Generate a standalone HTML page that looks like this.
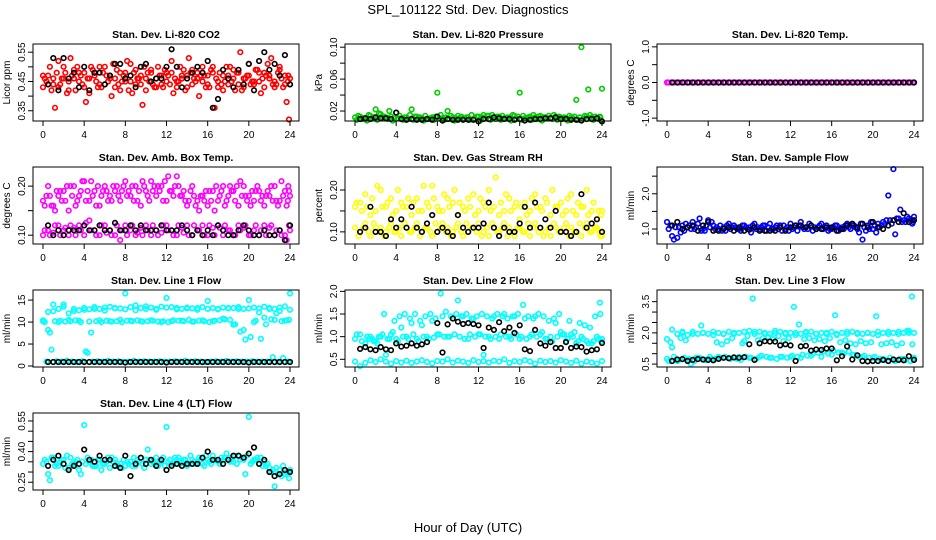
<!DOCTYPE html>
<html><head><meta charset="utf-8">
<style>
html,body{margin:0;padding:0;background:#fff;}
svg{display:block;font-family:"Liberation Sans",Arial,sans-serif;}
</style></head>
<body>
<svg id="chart" width="936" height="540" viewBox="0 0 936 540">
<text x="468" y="14" text-anchor="middle" font-size="13">SPL_101122  Std. Dev. Diagnostics</text>
<text x="468" y="532" text-anchor="middle" font-size="13">Hour of Day (UTC)</text>
</svg>
<script>
const HA=[0,0.5,1,1.5,2,2.5,3,3.5,4,4.5,5,5.5,6,6.5,7,7.5,8,8.5,9,9.5,10,10.5,11,11.5,12,12.5,13,13.5,14,14.5,15,15.5,16,16.5,17,17.5,18,18.5,19,19.5,20,20.5,21,21.5,22,22.5,23,23.5,24];
const HB=[0.17,0.67,1.17,1.67,2.17,2.67,3.17,3.67,4.17,4.67,5.17,5.67,6.17,6.67,7.17,7.67,8.17,8.67,9.17,9.67,10.17,10.67,11.17,11.67,12.17,12.67,13.17,13.67,14.17,14.67,15.17,15.67,16.17,16.67,17.17,17.67,18.17,18.67,19.17,19.67,20.17,20.67,21.17,21.67,22.17,22.67,23.17,23.67,23.9];
const HC=[0.33,0.83,1.33,1.83,2.33,2.83,3.33,3.83,4.33,4.83,5.33,5.83,6.33,6.83,7.33,7.83,8.33,8.83,9.33,9.83,10.33,10.83,11.33,11.83,12.33,12.83,13.33,13.83,14.33,14.83,15.33,15.83,16.33,16.83,17.33,17.83,18.33,18.83,19.33,19.83,20.33,20.83,21.33,21.83,22.33,22.83,23.33,23.83,23.8];
const xTicks=[0,4,8,12,16,20,24];

const co2A=[0.43,0.47,0.44,0.52,0.46,0.42,0.49,0.45,0.48,0.41,0.47,0.44,0.50,0.46,0.43,0.48,0.45,0.51,0.44,0.47,0.42,0.49,0.46,0.44,0.48,0.52,0.45,0.47,0.43,0.49,0.46,0.50,0.44,0.48,0.45,0.42,0.47,0.49,0.44,0.46,0.51,0.45,0.48,0.43,0.47,0.45,0.49,0.44,0.46];
const co2B=[0.46,0.50,0.36,0.44,0.48,0.53,0.42,0.47,0.38,0.50,0.45,0.43,0.47,0.40,0.49,0.45,0.52,0.41,0.46,0.37,0.48,0.44,0.50,0.43,0.47,0.41,0.45,0.49,0.53,0.46,0.40,0.47,0.43,0.36,0.48,0.45,0.50,0.42,0.55,0.46,0.44,0.49,0.41,0.47,0.53,0.44,0.46,0.38,0.32];
const co2C=[0.45,0.42,0.48,0.46,0.41,0.47,0.50,0.44,0.46,0.49,0.43,0.48,0.45,0.51,0.44,0.47,0.42,0.48,0.46,0.50,0.45,0.43,0.47,0.49,0.44,0.46,0.50,0.42,0.48,0.45,0.47,0.43,0.49,0.46,0.44,0.50,0.45,0.48,0.42,0.47,0.45,0.49,0.46,0.51,0.44,0.48,0.43,0.47,0.45];
const co2D=[0.47,0.44,0.46,0.43,0.50,0.45,0.46,0.48,0.43,0.46,0.48,0.50,0.44,0.47,0.46,0.42,0.48,0.45,0.49,0.44,0.46,0.48,0.43,0.47,0.45,0.48,0.43,0.46,0.47,0.44,0.48,0.45,0.47,0.50,0.43,0.47,0.44,0.46,0.48,0.43,0.47,0.44,0.45,0.48,0.46,0.43,0.50,0.47,0.44];
const co2K=[null,0.44,0.53,0.42,0.53,0.46,0.48,0.43,0.50,0.42,0.48,0.48,0.44,0.47,0.51,0.51,0.46,0.47,0.43,0.50,0.51,0.45,0.46,0.46,0.50,0.56,0.50,0.43,0.46,0.48,0.50,0.48,0.52,0.36,0.39,0.49,0.46,0.43,0.49,0.44,0.51,0.42,0.52,0.55,0.49,0.51,0.47,0.54,0.44];

const prA=[0.012,0.013,0.010,0.014,0.022,0.016,0.012,0.013,0.018,0.011,0.012,0.022,0.013,0.011,0.010,0.012,0.043,0.011,0.020,0.012,0.014,0.011,0.012,0.010,0.013,0.015,0.014,0.012,0.013,0.011,0.012,0.014,0.043,0.011,0.013,0.012,0.014,0.012,0.011,0.013,0.012,0.011,0.012,0.034,0.100,0.013,0.012,0.011,0.048];
const prB=[0.009,0.010,0.008,0.011,0.009,0.012,0.010,0.008,0.011,0.009,0.010,0.009,0.011,0.008,0.010,0.009,0.011,0.009,0.010,0.008,0.011,0.010,0.009,0.010,0.008,0.011,0.009,0.010,0.009,0.011,0.008,0.010,0.009,0.011,0.009,0.010,0.008,0.011,0.010,0.009,0.010,0.008,0.011,0.009,0.010,0.047,0.009,0.010,0.008];
const prC=[0.014,0.011,0.015,0.012,0.017,0.013,0.020,0.011,0.014,0.012,0.015,0.013,0.012,0.014,0.011,0.013,0.015,0.012,0.014,0.011,0.013,0.012,0.015,0.013,0.012,0.014,0.015,0.013,0.014,0.012,0.015,0.013,0.014,0.012,0.015,0.013,0.012,0.014,0.015,0.013,0.012,0.014,0.013,0.012,0.014,0.015,0.013,0.012,0.013];
const prK=[null,0.010,0.011,0.010,0.012,0.011,0.011,0.010,0.018,0.010,0.009,0.010,0.009,0.009,0.010,0.009,0.013,0.008,0.010,0.009,0.009,0.009,0.009,0.009,0.007,0.010,0.010,0.012,0.011,0.010,0.010,0.009,0.010,0.008,0.009,0.010,0.010,0.011,0.011,0.012,0.010,0.010,0.009,0.009,0.008,0.010,0.010,0.011,0.007];

const tmA=[0,0,0,0,0,0,0,0,0,0,0,0,0,0,0,0,0,0,0,0,0,0,0,0,0,0,0,0,0,0,0,0,0,0,0,0,0,0,0,0,0,0,0,0,0,0,0,0,0];
const tmB=[0,0,0,0,0,0,0,0,0,0,0,0,0,0,0,0,0,0,0,0,0,0,0,0,0,0,0,0,0,0,0,0,0,0,0,0,0,0,0,0,0,0,0,0,0,0,0,0,0];
const tmK=[null,0,0,0,0,0,0,0,0,0,0,0,0,0,0,0,0,0,0,0,0,0,0,0,0,0,0,0,0,0,0,0,0,0,0,0,0,0,0,0,0,0,0,0,0,0,0,0,0];

const abA=[0.17,0.20,0.16,0.18,0.19,0.15,0.20,0.18,0.21,0.17,0.19,0.16,0.20,0.18,0.19,0.17,0.21,0.18,0.20,0.16,0.19,0.21,0.18,0.20,0.17,0.19,0.22,0.18,0.16,0.20,0.17,0.18,0.16,0.19,0.17,0.20,0.18,0.19,0.16,0.20,0.18,0.17,0.19,0.16,0.18,0.20,0.17,0.19,0.18];
const abB=[0.16,0.18,0.15,0.19,0.17,0.20,0.16,0.19,0.17,0.21,0.16,0.18,0.19,0.17,0.20,0.19,0.18,0.20,0.17,0.21,0.18,0.19,0.20,0.17,0.22,0.18,0.20,0.19,0.17,0.18,0.15,0.17,0.19,0.15,0.18,0.16,0.20,0.17,0.21,0.18,0.16,0.19,0.17,0.18,0.20,0.17,0.21,0.16,0.19];
const abC=[0.18,0.16,0.19,0.17,0.20,0.18,0.17,0.21,0.19,0.18,0.20,0.19,0.17,0.20,0.18,0.20,0.19,0.17,0.19,0.20,0.17,0.20,0.19,0.21,0.19,0.20,0.18,0.17,0.19,0.16,0.18,0.19,0.17,0.20,0.19,0.17,0.19,0.20,0.18,0.17,0.19,0.20,0.18,0.19,0.17,0.16,0.18,0.20,0.17];
const abD=[0.10,0.11,0.105,0.12,0.11,0.10,0.115,0.12,0.10,0.13,0.11,0.10,0.12,0.11,0.10,0.09,0.12,0.11,0.10,0.115,0.12,0.10,0.11,0.105,0.12,0.11,0.10,0.115,0.12,0.10,0.11,0.12,0.10,0.115,0.12,0.10,0.11,0.10,0.12,0.115,0.10,0.11,0.10,0.12,0.115,0.10,0.11,0.10,0.11];
const abE=[0.11,0.10,0.12,0.10,0.115,0.12,0.10,0.11,0.125,0.11,0.10,0.12,0.105,0.10,0.12,0.11,0.10,0.12,0.105,0.10,0.11,0.12,0.10,0.12,0.11,0.10,0.12,0.105,0.10,0.12,0.11,0.10,0.12,0.10,0.115,0.12,0.11,0.10,0.11,0.12,0.10,0.12,0.11,0.10,0.12,0.11,0.10,0.09,0.12];
const abK=[null,0.12,0.10,0.11,0.10,0.11,0.11,0.11,0.12,0.11,0.11,0.12,0.11,0.11,0.125,0.11,0.11,0.12,0.11,0.12,0.11,0.11,0.11,0.12,0.11,0.11,0.11,0.12,0.11,0.10,0.11,0.10,0.11,0.10,0.12,0.11,0.10,0.10,0.11,0.12,0.11,0.10,0.10,0.11,0.10,0.10,0.11,0.09,0.12];

const rhA=[0.16,0.17,0.19,0.14,0.15,0.20,0.16,0.18,0.15,0.17,0.16,0.14,0.18,0.15,0.17,0.21,0.16,0.15,0.18,0.17,0.14,0.16,0.18,0.19,0.15,0.17,0.20,0.16,0.14,0.15,0.18,0.16,0.13,0.17,0.15,0.19,0.16,0.18,0.14,0.16,0.17,0.15,0.19,0.14,0.16,0.20,0.15,0.13,0.15];
const rhB=[0.17,0.15,0.16,0.18,0.21,0.16,0.17,0.14,0.20,0.16,0.18,0.17,0.15,0.21,0.16,0.18,0.15,0.19,0.16,0.20,0.17,0.15,0.16,0.14,0.18,0.16,0.15,0.23,0.17,0.19,0.15,0.17,0.16,0.14,0.18,0.16,0.15,0.17,0.20,0.16,0.14,0.18,0.15,0.17,0.16,0.14,0.17,0.15,0.14];
const rhC=[0.09,0.11,0.10,0.12,0.10,0.09,0.11,0.10,0.11,0.12,0.10,0.11,0.09,0.11,0.10,0.12,0.11,0.10,0.09,0.11,0.10,0.12,0.11,0.10,0.09,0.11,0.12,0.10,0.11,0.09,0.10,0.11,0.10,0.12,0.11,0.10,0.09,0.11,0.12,0.10,0.11,0.09,0.10,0.12,0.11,0.10,0.11,0.09,0.10];
const rhD=[0.11,0.10,0.12,0.09,0.11,0.11,0.10,0.12,0.10,0.09,0.11,0.10,0.12,0.10,0.11,0.09,0.10,0.12,0.11,0.10,0.12,0.09,0.10,0.11,0.12,0.10,0.09,0.11,0.10,0.12,0.11,0.09,0.11,0.10,0.09,0.12,0.11,0.10,0.09,0.11,0.10,0.12,0.11,0.10,0.09,0.12,0.10,0.11,0.09];
const rhK=[null,0.10,0.11,0.16,0.10,0.10,0.09,0.13,0.11,0.13,0.11,0.16,0.11,0.10,0.12,0.14,0.10,0.11,0.10,0.09,0.14,0.11,0.10,0.11,0.11,0.12,0.17,0.11,0.09,0.11,0.10,0.10,0.12,0.16,0.11,0.17,0.11,0.13,0.11,0.15,0.10,0.10,0.09,0.10,0.19,0.11,0.12,0.13,0.10];

const sfA=[1.20,0.80,0.75,1.10,1.05,1.20,1.15,1.00,1.25,1.10,1.00,1.05,1.15,1.10,1.00,1.10,1.05,1.15,1.00,1.10,1.15,1.05,1.10,1.00,1.15,1.10,1.20,1.05,1.10,1.00,1.15,1.10,1.00,1.10,1.05,1.15,1.10,1.00,0.70,1.10,1.00,1.15,1.20,1.95,2.70,1.30,1.25,1.30,1.35];
const sfB=[1.00,0.70,1.05,0.95,1.10,1.00,1.30,0.95,1.05,1.00,1.10,0.95,1.00,1.05,0.95,1.05,0.90,1.00,1.05,0.95,1.00,1.10,0.95,1.05,1.00,0.95,1.05,1.00,0.95,1.05,1.00,0.95,1.05,0.95,1.00,1.05,1.10,0.90,1.05,1.00,1.10,1.05,1.15,1.25,0.85,1.55,1.20,1.25,1.20];
const sfC=[1.10,1.05,0.90,1.15,1.00,1.05,0.95,1.10,1.20,1.05,0.95,1.10,1.05,1.00,1.10,1.00,1.10,1.05,1.10,1.05,1.00,1.00,1.10,0.95,1.05,1.10,1.00,1.15,1.05,1.10,1.05,1.00,1.10,1.00,1.10,1.00,1.05,1.15,0.95,1.20,0.90,1.10,1.25,1.15,1.30,1.20,1.35,1.15,1.25];
const sfK=[null,1.10,1.20,1.00,1.05,1.10,0.95,1.10,1.20,0.95,0.95,1.00,1.05,0.95,1.05,0.95,0.98,1.05,0.95,0.95,0.95,0.95,1.05,0.95,1.05,1.10,1.10,1.05,1.10,1.00,1.00,1.05,1.05,0.95,1.00,1.10,1.15,1.05,1.15,1.05,1.20,1.05,1.00,1.10,1.25,1.20,1.45,1.20,1.25];

const l1A=[10.2,12.3,14.0,13.0,13.5,12.0,13.0,12.7,13.2,12.9,13.4,13.0,13.3,13.5,13.2,13.1,16.5,13.4,13.8,13.2,13.6,13.3,13.0,13.5,15.5,13.4,13.2,13.0,13.3,13.1,13.2,13.4,14.8,13.2,13.0,13.3,13.1,13.2,13.4,13.0,15.0,13.3,13.1,13.5,13.2,13.0,13.3,13.6,16.5];
const l1B=[10.0,7.6,10.2,10.3,10.1,10.2,10.4,10.0,3.3,7.6,10.2,10.0,10.3,10.1,10.2,10.0,10.3,10.2,10.4,10.1,10.2,10.3,10.1,10.2,10.0,10.4,10.3,10.2,10.5,10.1,10.3,10.2,10.0,10.3,10.4,10.6,10.5,9.5,7.8,6.0,6.6,10.3,6.2,9.5,10.6,12.0,10.2,10.4,10.5];
const l1C=[1.0,3.7,1.1,1.0,1.2,1.0,0.9,1.1,3.0,1.0,1.1,1.0,1.2,1.0,1.1,0.9,1.0,1.2,1.0,1.1,1.0,1.0,1.1,1.0,1.0,1.1,1.0,1.2,1.0,1.1,1.0,0.9,1.0,1.1,1.0,1.2,1.0,1.1,1.0,1.0,1.1,1.0,1.0,1.0,2.0,1.0,1.8,1.0,1.0];
const l1D=[10.4,8.2,12.5,10.0,14.0,10.5,12.5,10.3,12.8,10.1,13.0,10.4,12.6,10.2,13.1,10.5,12.9,10.3,12.7,10.2,13.0,10.4,12.8,10.0,13.3,10.2,12.9,10.3,13.1,10.1,12.8,10.4,13.0,10.2,12.9,10.8,13.2,9.4,13.0,8.2,13.1,10.0,12.2,11.0,13.0,10.5,12.5,10.3,12.8];
const l1K=[null,0.9,0.9,0.9,0.9,0.9,0.9,0.9,0.9,0.9,0.9,0.9,0.9,0.9,0.9,0.9,0.8,0.9,0.9,0.9,0.9,0.9,0.9,0.9,0.8,0.9,0.9,0.9,0.9,0.9,0.9,0.9,0.9,0.9,0.9,0.9,0.9,0.9,0.9,0.9,0.8,0.9,0.9,0.9,0.9,0.9,0.9,0.9,0.9];

const l2A=[0.45,0.35,0.42,0.48,0.44,0.50,0.45,0.40,0.46,0.43,0.47,0.42,0.45,0.48,0.44,0.41,0.46,0.45,0.50,0.43,0.47,0.45,0.42,0.48,0.44,0.46,0.43,0.47,0.45,0.50,0.42,0.46,0.44,0.48,0.45,0.40,0.47,0.44,0.46,0.43,0.48,0.45,0.42,0.47,0.40,0.45,0.43,0.40,0.46];
const l2B=[1.05,0.90,1.00,0.95,0.85,1.05,0.95,1.10,0.90,1.00,0.95,1.05,0.90,1.00,0.95,0.98,1.05,1.00,1.00,1.05,1.00,0.95,1.05,1.00,1.05,1.00,0.95,1.00,1.05,1.00,0.95,1.05,1.00,0.95,1.05,1.00,1.10,0.95,0.90,1.00,1.05,0.95,1.00,0.90,0.95,0.85,0.90,0.95,0.90];
const l2C=[null,null,0.95,0.90,1.00,1.50,0.95,1.35,1.45,1.50,1.40,1.50,1.35,1.45,1.50,1.40,1.95,1.55,1.45,1.50,1.45,1.50,1.40,1.45,1.50,1.45,1.40,1.50,1.45,1.40,1.45,1.50,1.70,1.45,1.40,1.50,1.45,1.35,1.40,1.50,1.05,1.35,1.10,1.30,1.25,1.20,1.45,1.50,1.75];
const l2D=[0.95,1.05,0.85,1.00,0.90,1.00,0.60,1.05,0.95,1.20,1.00,1.30,0.95,1.25,1.00,1.35,1.05,1.45,1.00,1.40,1.80,1.45,0.95,1.40,1.05,0.60,1.00,1.45,0.95,1.50,1.00,1.45,0.95,1.40,1.00,1.45,1.05,0.95,1.00,1.30,1.10,0.90,1.05,0.85,1.00,0.90,0.85,1.00,0.95];
const l2K=[null,0.73,0.77,0.72,0.70,0.77,0.72,0.70,0.85,0.78,0.80,0.85,0.80,0.83,0.88,null,1.30,0.65,1.27,1.40,1.33,1.28,1.30,1.28,1.25,0.75,1.20,1.15,1.32,1.12,1.20,1.08,1.25,0.72,0.68,1.15,0.85,0.80,0.88,0.75,0.75,0.88,0.75,0.78,0.77,0.67,0.70,0.72,0.86];

const l3A=[1.70,2.15,1.95,2.00,1.90,2.05,1.95,2.00,1.95,1.90,2.00,1.95,2.05,1.95,2.00,2.05,2.10,1.95,2.05,2.00,1.95,2.00,2.05,1.95,2.00,2.00,1.95,2.00,2.05,1.95,2.00,1.95,2.05,1.95,2.00,1.95,2.05,2.00,1.95,2.00,1.95,2.05,2.00,1.95,2.00,2.05,2.00,2.10,2.00];
const l3B=[0.65,0.85,0.70,0.80,0.75,0.65,0.80,0.70,0.85,0.75,0.80,0.85,0.75,0.80,0.70,0.85,0.80,0.75,0.90,0.85,0.80,0.75,0.85,0.80,0.90,0.85,0.95,0.90,1.00,1.05,1.10,1.00,1.15,1.05,1.00,1.10,0.95,0.85,0.90,0.80,0.85,0.75,0.70,0.80,0.65,0.75,0.70,0.65,0.75];
const l3C=[1.55,0.70,1.75,1.65,0.50,0.80,2.35,0.70,0.75,1.55,1.45,1.60,1.75,0.75,1.50,1.85,3.65,1.65,1.75,1.80,1.70,1.85,1.60,1.75,3.25,2.40,1.70,1.75,1.65,1.70,1.60,1.75,2.85,1.55,1.65,1.50,1.45,1.60,1.50,1.55,2.80,1.45,1.50,1.55,1.40,1.50,2.10,1.45,3.75];
const l3D=[0.75,1.30,0.65,2.05,0.70,1.95,0.80,2.00,0.75,2.05,0.85,1.95,0.80,2.00,0.85,1.60,0.80,2.05,0.85,1.95,0.80,2.10,0.85,2.00,0.85,1.90,0.80,2.05,0.90,1.95,0.85,2.00,0.95,1.90,1.05,2.05,0.95,1.95,0.85,2.00,0.80,1.90,0.75,2.05,0.70,1.95,0.75,2.00,0.80];
const l3K=[null,0.65,0.72,0.74,0.65,0.70,0.74,0.72,0.70,0.68,0.75,0.80,0.78,0.82,0.80,0.83,1.45,0.70,1.50,1.60,1.58,1.58,1.40,1.45,1.40,0.65,1.35,1.38,1.15,1.20,1.18,1.25,1.25,0.68,0.88,1.35,0.72,0.92,0.65,0.63,0.65,0.65,0.70,0.65,0.72,0.70,0.68,0.88,0.70];

const l4A=[0.34,0.29,0.37,0.33,0.36,0.32,0.34,0.31,0.53,0.35,0.33,0.36,0.34,0.32,0.36,0.34,0.33,0.35,0.33,0.37,0.36,0.34,0.37,0.35,0.52,0.34,0.36,0.35,0.33,0.36,0.35,0.34,0.36,0.38,0.35,0.36,0.37,0.35,0.38,0.36,0.57,0.36,0.34,0.35,0.32,0.23,0.31,0.29,0.31];
const l4B=[0.36,0.26,0.33,0.35,0.32,0.37,0.35,0.29,0.34,0.36,0.33,0.31,0.35,0.37,0.34,0.32,0.35,0.33,0.36,0.34,0.41,0.35,0.33,0.37,0.35,0.34,0.37,0.36,0.34,0.35,0.37,0.33,0.35,0.36,0.34,0.37,0.35,0.38,0.36,0.29,0.34,0.36,0.37,0.33,0.30,0.32,0.28,0.30,0.27];
const l4C=[0.35,0.37,0.34,0.36,0.38,0.34,0.36,0.35,0.37,0.33,0.36,0.34,0.37,0.35,0.33,0.36,0.34,0.37,0.35,0.32,0.36,0.34,0.35,0.33,0.36,0.37,0.34,0.36,0.38,0.34,0.36,0.38,0.34,0.36,0.37,0.39,0.36,0.34,0.37,0.38,0.35,0.37,0.33,0.34,0.31,0.29,0.33,0.30,0.29];
const l4K=[null,0.33,0.36,0.38,0.34,0.31,0.33,0.34,0.41,0.36,0.35,0.38,0.36,0.36,0.33,0.32,0.38,0.28,0.34,0.37,0.34,0.36,0.33,0.36,0.31,0.33,0.34,0.33,0.34,0.34,0.34,0.37,0.40,0.36,0.36,0.34,0.36,0.38,0.38,0.37,0.39,0.42,0.34,0.36,0.30,0.28,0.29,0.31,0.30];

const panels=[
 {name:'co2',title:'Stan. Dev. Li-820 CO2',ylab:'Licor ppm',col:0,row:0,color:'#ff0000',dom:[0.315,0.578],ticks:[0.35,0.40,0.45,0.50,0.55],labels:['0.35','','0.45','','0.55'],series:[co2A,co2B,co2C,co2D],black:co2K},
 {name:'pressure',title:'Stan. Dev. Li-820 Pressure',ylab:'kPa',col:1,row:0,color:'#00cc00',dom:[0.0075,0.104],ticks:[0.02,0.04,0.06,0.08,0.10],labels:['0.02','','0.06','','0.10'],series:[prA,prB,prC],black:prK},
 {name:'temp',title:'Stan. Dev. Li-820 Temp.',ylab:'degrees C',col:2,row:0,color:'#ff00ff',dom:[-1.08,1.08],ticks:[-1,-0.5,0,0.5,1],labels:['-1.0','','0.0','','1.0'],series:[tmA,tmB],black:tmK},
 {name:'amb-box-temp',title:'Stan. Dev. Amb. Box Temp.',ylab:'degrees C',col:0,row:1,color:'#ff00ff',dom:[0.082,0.239],ticks:[0.10,0.15,0.20],labels:['0.10','','0.20'],series:[abA,abB,abC,abD,abE],black:abK},
 {name:'gas-rh',title:'Stan. Dev. Gas Stream RH',ylab:'percent',col:1,row:1,color:'#ffff00',dom:[0.071,0.255],ticks:[0.10,0.15,0.20],labels:['0.10','','0.20'],series:[rhA,rhB,rhC,rhD],black:rhK},
 {name:'sample-flow',title:'Stan. Dev. Sample Flow',ylab:'ml/min',col:2,row:1,color:'#0000ff',dom:[0.575,2.76],ticks:[1.0,1.5,2.0,2.5],labels:['1.0','','2.0',''],series:[sfA,sfB,sfC],black:sfK},
 {name:'line1-flow',title:'Stan. Dev. Line 1 Flow',ylab:'ml/min',col:0,row:2,color:'#00ffff',dom:[-0.23,17.3],ticks:[0,5,10,15],labels:['0','5','10','15'],series:[l1A,l1B,l1C,l1D],black:l1K},
 {name:'line2-flow',title:'Stan. Dev. Line 2 Flow',ylab:'ml/min',col:1,row:2,color:'#00ffff',dom:[0.33,2.03],ticks:[0.5,1.0,1.5,2.0],labels:['0.5','1.0','1.5','2.0'],series:[l2A,l2B,l2C,l2D],black:l2K},
 {name:'line3-flow',title:'Stan. Dev. Line 3 Flow',ylab:'ml/min',col:2,row:2,color:'#00ffff',dom:[0.36,4.06],ticks:[0.5,1.0,1.5,2.0,2.5,3.0,3.5],labels:['0.5','','','2.0','','','3.5'],series:[l3A,l3B,l3C,l3D],black:l3K},
 {name:'line4-flow',title:'Stan. Dev. Line 4 (LT) Flow',ylab:'ml/min',col:0,row:3,color:'#00ffff',dom:[0.212,0.589],ticks:[0.25,0.30,0.35,0.40,0.45,0.50,0.55],labels:['0.25','','','0.40','','','0.55'],series:[l4A,l4B,l4C],black:l4K}
];
const hourSets=[HA,HB,HC];
const NS='http://www.w3.org/2000/svg';
const svg=document.getElementById('chart');
function mk(tag,attrs,parent){const e=document.createElementNS(NS,tag);for(const k in attrs)e.setAttribute(k,attrs[k]);(parent||svg).appendChild(e);return e;}

panels.forEach(p=>{
  const L=33+312*p.col, T=44+123*p.row, W=266, H=77;
  const x0=L+10, x1=L+257;
  const xs=h=>x0+(h/24)*(x1-x0);
  const ys=v=>T+H-(v-p.dom[0])/(p.dom[1]-p.dom[0])*H;
  const g=mk('g',{});
  
  
  const t=mk('text',{x:L+W/2,y:T-6,'text-anchor':'middle','font-size':'10.5','font-weight':'bold'},g);
  t.textContent=p.title;
  
  
  const pts=mk('g',{fill:'none','stroke-width':'1.6'},g);
  
  
  p.series.forEach((s,si)=>{
    const hs=hourSets[si%3];
    s.forEach((v,i)=>{
      if(v===null)return;
      const c=mk('circle',{cx:xs(hs[i]).toFixed(1),cy:ys(v).toFixed(1),r:'2.3',stroke:p.color},pts);
      
      
    });
  });
  p.black.forEach((v,i)=>{
    if(v===null)return;
    const c=mk('circle',{cx:xs(HA[i]).toFixed(1),cy:ys(v).toFixed(1),r:'2.3',stroke:'#000'},pts);
    
    
  });
  const box=mk('rect',{x:L,y:T,width:W,height:H,fill:'none',stroke:'#000','stroke-width':'1'},g);
  
  
  const xa=mk('g',{},g);
  
  
  xTicks.forEach(h=>{
    mk('line',{x1:xs(h),x2:xs(h),y1:T+H,y2:T+H+5,stroke:'#000'},xa);
    const tl=mk('text',{x:xs(h),y:T+H+17,'text-anchor':'middle','font-size':'10'},xa);
    tl.textContent=h;
  });
  const ya=mk('g',{},g);
  
  
  p.ticks.forEach((v,i)=>{
    const y=ys(v);
    mk('line',{x1:L,x2:L-5,y1:y,y2:y,stroke:'#000'},ya);
    if(p.labels[i]){
      const tl=mk('text',{x:0,y:0,'text-anchor':'middle','font-size':'10',transform:`translate(${L-8},${y}) rotate(-90)`},ya);
      tl.textContent=p.labels[i];
    }
  });
  const yl=mk('text',{x:0,y:0,'text-anchor':'middle','font-size':'10',transform:`translate(${L-23},${T+H/2}) rotate(-90)`},g);
  yl.textContent=p.ylab;
  
  
});
</script>
</body></html>
